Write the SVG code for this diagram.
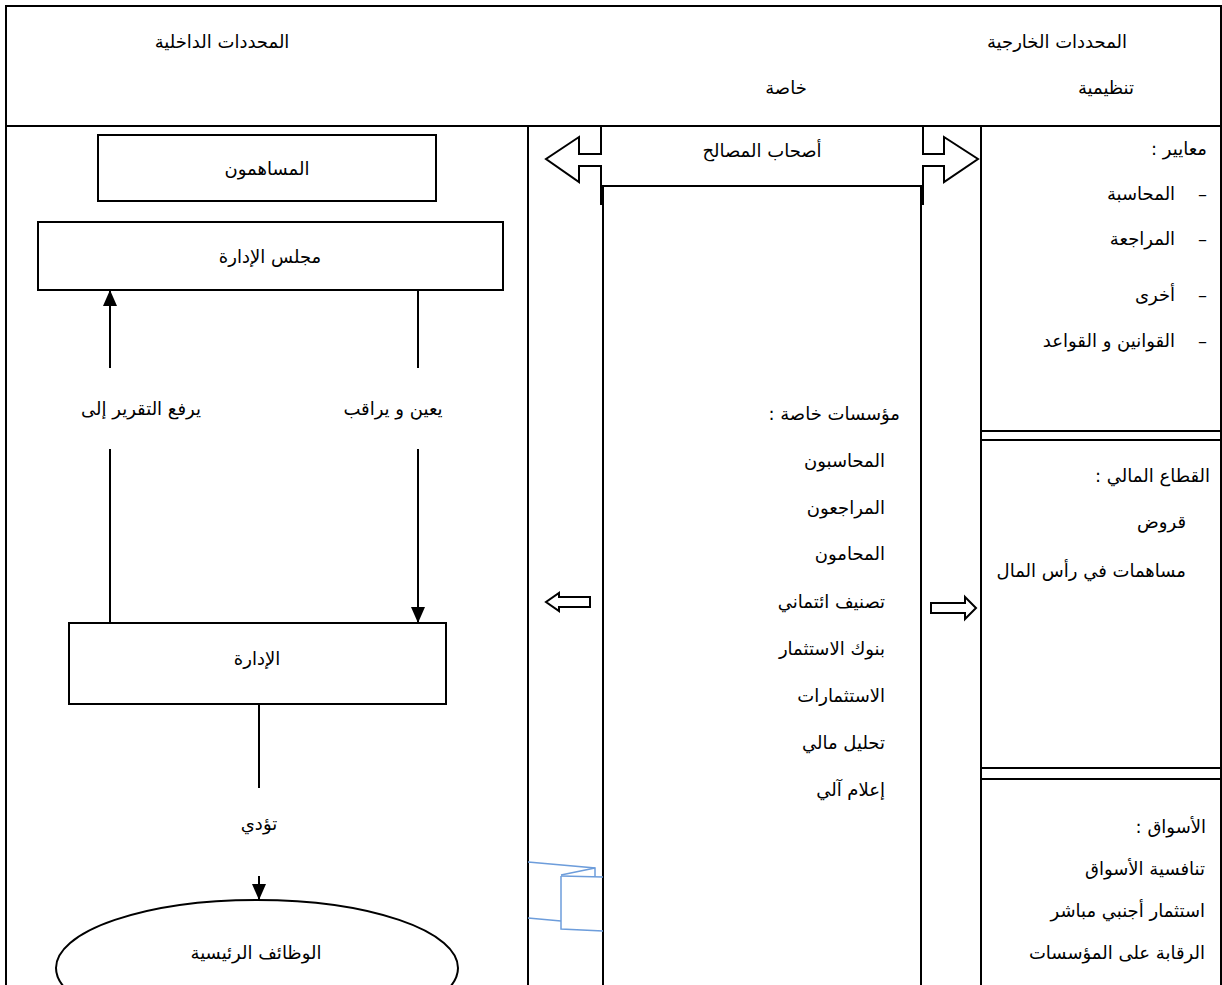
<svg xmlns="http://www.w3.org/2000/svg" width="1222" height="985" viewBox="0 0 1222 985">
<defs>
<style>
.ln{stroke:#000;stroke-width:2;fill:none}
.bx{stroke:#000;stroke-width:2;fill:#fff}
.blu{stroke:#6d9ddb;stroke-width:1.5;fill:none}
text{font-family:"DejaVu Sans","Noto Sans",sans-serif;font-size:18px;fill:#000}
.c{text-anchor:middle}
.r{direction:rtl;text-anchor:start}
</style>
<marker id="ah2" markerWidth="16" markerHeight="14" refX="15" refY="7" orient="auto" markerUnits="userSpaceOnUse">
<path d="M0,0 L16,7 L0,14 z" fill="#000"/>
</marker>
</defs>
<rect width="1222" height="985" fill="#fff"/>

<g id="frame">
<path class="ln" d="M6,985 V6 H1221 V985"/>
<line class="ln" x1="6" y1="126" x2="1221" y2="126"/>
<line class="ln" x1="528" y1="126" x2="528" y2="985"/>
<line class="ln" x1="981" y1="126" x2="981" y2="985"/>
</g>

<g id="headers">
<text class="c" x="222" y="48">المحددات الداخلية</text>
<text class="c" x="1057" y="48">المحددات الخارجية</text>
<text class="c" x="786" y="94">خاصة</text>
<text class="c" x="1106" y="94">تنظيمية</text>
</g>

<g id="shareholders">
<rect class="bx" x="98" y="135" width="338" height="66"/>
<text class="c" x="267" y="175">المساهمون</text>
</g>

<g id="board">
<rect class="bx" x="38" y="222" width="465" height="68"/>
<text class="c" x="270" y="263">مجلس الإدارة</text>
</g>

<g id="management">
<rect class="bx" x="69" y="623" width="377" height="81"/>
<text class="c" x="257" y="665">الإدارة</text>
</g>

<g id="functions">
<ellipse class="bx" cx="257" cy="968" rx="201" ry="68"/>
<text class="c" x="256" y="959">الوظائف الرئيسية</text>
</g>

<g id="connectors">
<line class="ln" x1="110" y1="368" x2="110" y2="291" marker-end="url(#ah2)"/>
<line class="ln" x1="110" y1="449" x2="110" y2="623"/>
<line class="ln" x1="418" y1="290" x2="418" y2="368"/>
<line class="ln" x1="418" y1="449" x2="418" y2="622" marker-end="url(#ah2)"/>
<line class="ln" x1="259" y1="704" x2="259" y2="788"/>
<line class="ln" x1="259" y1="876" x2="259" y2="899" marker-end="url(#ah2)"/>
<text class="c" x="141" y="415">يرفع التقرير إلى</text>
<text class="c" x="393" y="415">يعين و يراقب</text>
<text class="c" x="259" y="830">تؤدي</text>
</g>

<g id="stakeholders">
<path class="ln" stroke-width="1.5" d="M601,126 V154 H579 V137 L546,159 L579,182 V166 H601 V205"/>
<path class="ln" stroke-width="1.5" d="M923,126 V154 H944 V137 L978,159 L944,182 V166 H923 V205"/>
<text class="c" x="762" y="157">أصحاب المصالح</text>
</g>

<g id="private-institutions">
<path class="ln" d="M603,985 V186 H921 V985"/>
<text class="r" x="900" y="420">مؤسسات خاصة :</text>
<text class="r" x="885" y="467">المحاسبون</text>
<text class="r" x="885" y="514">المراجعون</text>
<text class="r" x="885" y="560">المحامون</text>
<text class="r" x="885" y="608">تصنيف ائتماني</text>
<text class="r" x="885" y="655">بنوك الاستثمار</text>
<text class="r" x="885" y="702">الاستثمارات</text>
<text class="r" x="885" y="749">تحليل مالي</text>
<text class="r" x="885" y="796">إعلام آلي</text>
</g>

<g id="side-arrows">
<path class="ln" stroke-width="1.5" d="M590,597 H559 V593 L546,602 L559,611 V607 H590 Z"/>
<path class="ln" stroke-width="1.5" d="M931,603 H965 V597 L976,608 L965,619 V613 H931 Z"/>
</g>

<g id="standards">
<rect class="bx" x="981" y="126" width="240" height="305"/>
<text class="r" x="1207" y="155">معايير :</text>
<text class="r" x="1207" y="200">–&#160;&#160;&#160;&#160;المحاسبة</text>
<text class="r" x="1207" y="245">–&#160;&#160;&#160;&#160;المراجعة</text>
<text class="r" x="1207" y="301">–&#160;&#160;&#160;&#160;أخرى</text>
<text class="r" x="1207" y="347">–&#160;&#160;&#160;&#160;القوانين و القواعد</text>
</g>

<g id="financial-sector">
<rect class="bx" x="981" y="440" width="240" height="328"/>
<text class="r" x="1210" y="482">القطاع المالي :</text>
<text class="r" x="1186" y="528">قروض</text>
<text class="r" x="1186" y="577">مساهمات في رأس المال</text>
</g>

<g id="markets">
<rect class="bx" x="981" y="779" width="240" height="215"/>
<text class="r" x="1206" y="833">الأسواق :</text>
<text class="r" x="1205" y="875">تنافسية الأسواق</text>
<text class="r" x="1205" y="917">استثمار أجنبي مباشر</text>
<text class="r" x="1205" y="959">الرقابة على المؤسسات</text>
</g>

<g id="blue-marks">
<path class="blu" d="M528,862 L595,868 V877"/>
<path class="blu" d="M561,875 L595,868"/>
<path class="blu" d="M561,876 L603,877"/>
<path class="blu" d="M561,876 V929 L603,931"/>
<path class="blu" d="M528,918 L561,921"/>
</g>
</svg>
